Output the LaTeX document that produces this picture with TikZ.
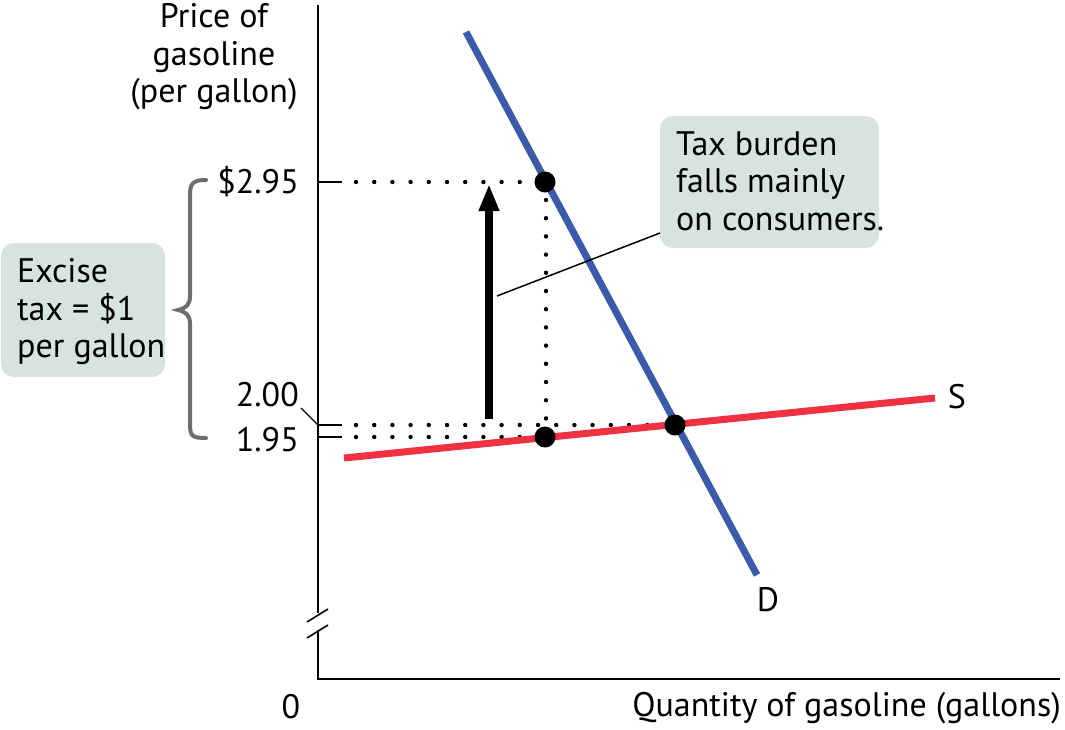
\documentclass[tikz,border=0pt]{standalone}
\usepackage{fontspec}
\setmainfont{PT Sans}
\usetikzlibrary{arrows.meta}
\definecolor{boxfill}{RGB}{214,227,225}
\definecolor{dblue}{RGB}{58,91,169}
\definecolor{sred}{RGB}{238,50,66}
\definecolor{bracegray}{RGB}{109,110,113}
\tikzset{
  lbl/.style={font=\fontsize{34}{37.5}\selectfont, inner sep=0pt},
  boxtext/.style={lbl, align=left, anchor=west},
  callbox/.style={fill=boxfill, rounded corners=13pt},
  axis/.style={line width=2pt, black},
  tick/.style={line width=1.6pt, black},
  dots/.style={line width=4.4pt, line cap=round, dash pattern=on 0pt off 18.2pt},
  curveD/.style={line width=7pt, dblue},
  curveS/.style={line width=7pt, sred},
  eqdot/.style={circle, fill=black, minimum size=21pt, inner sep=0pt},
}
\begin{document}
\begin{tikzpicture}[x=1pt,y=-1pt]
\useasboundingbox (0,0) rectangle (1065,729);
% axes
\coordinate (ytop) at (318,5);
\coordinate (ybrk1) at (318,613);
\coordinate (ybrk2) at (318,630);
\coordinate (orig) at (318,679);
\coordinate (xend) at (1060,679);
\draw[axis] (ytop) -- (ybrk1);
\draw[axis] (ybrk2) -- (orig) -- (xend);
\coordinate (b1a) at (307,622); \coordinate (b1b) at (328,609);
\coordinate (b2a) at (307,638); \coordinate (b2b) at (328,625);
\draw[tick] (b1a) -- (b1b);
\draw[tick] (b2a) -- (b2b);
% ticks
\coordinate (t1) at (318,182); \coordinate (t1e) at (342,182);
\coordinate (t2) at (318,425); \coordinate (t2e) at (342,425);
\coordinate (t3) at (318,437); \coordinate (t3e) at (342,437);
\draw[tick] (t1) -- (t1e);
\draw[tick] (t2) -- (t2e);
\draw[tick] (t3) -- (t3e);
% tick labels
\node[lbl, anchor=east] (l295) at (299,182) {\$2.95};
\node[lbl, anchor=east] (l200) at (299,395) {2.00};
\node[lbl, anchor=east] (l195) at (299,440) {1.95};
\coordinate (lead200) at (301,408);
\draw[line width=1.3pt] (lead200) -- (t2);
% axis labels
\node[lbl, align=center] (ylab) at (214,57) {Price of\\gasoline\\(per gallon)};
\node[lbl] (zero) at (291,707) {0};
\node[lbl, anchor=east] (xlab) at (1061,708) {Quantity of gasoline (gallons)};
% dotted guides
\coordinate (d1s) at (356,182); \coordinate (d1e) at (530,182);
\coordinate (d2s) at (356,425); \coordinate (d2e) at (660,425);
\coordinate (d3s) at (356,437); \coordinate (d3e) at (530,437);
\coordinate (dvs) at (546,200); \coordinate (dve) at (546,420);
\draw[dots] (d1s) -- (d1e);
\draw[dots] (d2s) -- (d2e);
\draw[dots] (d3s) -- (d3e);
\draw[dots] (dvs) -- (dve);
% curves
\coordinate (Dtop) at (466,32); \coordinate (Dbot) at (757,575);
\coordinate (Sleft) at (344,458); \coordinate (Sright) at (935,398);
\draw[curveS] (Sleft) -- (Sright);
\draw[curveD] (Dtop) -- (Dbot);
\node[lbl] (S) at (957,397) {S};
\node[lbl] (D) at (768,600) {D};
% equilibrium dots
\node[eqdot] (e1) at (545,182) {};
\node[eqdot] (e2) at (545,437) {};
\node[eqdot] (e0) at (675,425) {};
% tax arrow
\coordinate (arrb) at (489,419);
\coordinate (arrt) at (489,184);
\draw[line width=8pt, -{Triangle[width=19pt,length=27pt]}] (arrb) -- (arrt);
% callouts
\fill[callbox] (660,116) rectangle (879,248);
\node[boxtext] (tax) at (676,181) {Tax burden\\falls mainly\\on consumers.};
\coordinate (taxpt) at (660,233);
\coordinate (leadA) at (497,296);
\draw[line width=1.5pt] (leadA) -- (taxpt);
\fill[callbox] (1,243) rectangle (165,377);
\node[boxtext] (excise) at (17,312) {Excise\\tax = \$1\\per gallon};
% brace
\coordinate (brT) at (206,180);
\coordinate (brB) at (206,438);
\coordinate (brM) at (178,310);
\draw[bracegray, line width=4pt, line cap=round] (brT) .. controls (192,180) and (190,184) .. (190,196) -- (190,296) .. controls (190,305) and (186,308) .. (brM) .. controls (186,312) and (190,315) .. (190,324) -- (190,424) .. controls (190,436) and (192,438) .. (brB);
\end{tikzpicture}
\end{document}
